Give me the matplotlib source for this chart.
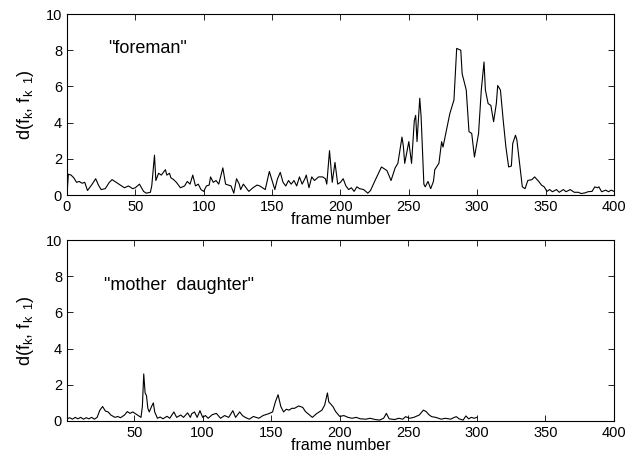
import matplotlib.pyplot as plt

plt.rcParams['font.family'] = ['Liberation Sans', 'DejaVu Sans']
plt.rcParams['mathtext.fontset'] = 'custom'
plt.rcParams['mathtext.rm'] = 'Liberation Sans'
plt.rcParams['mathtext.it'] = 'Liberation Sans'

# frame distance, "foreman" sequence
fore_frames = [0, 1, 3, 5, 7, 9, 11, 13, 15, 18, 21, 23, 25, 28, 31, 33, 36, 39, 42, 45,
               48, 50, 53, 56, 58, 61, 62, 64, 65, 67, 69, 71, 72, 73, 75, 76, 78, 80, 83, 86,
               88, 90, 92, 94, 96, 98, 100, 102, 104, 105, 107, 109, 111, 114, 116, 118, 120, 122, 124, 126,
               127, 129, 131, 133, 136, 139, 141, 143, 145, 148, 150, 152, 154, 156, 158, 160, 162, 164, 166, 168,
               170, 172, 174, 175, 177, 179, 181, 184, 187, 189, 190, 192, 194, 196, 198, 200, 202, 204, 206, 208,
               210, 212, 214, 217, 220, 222, 225, 230, 234, 237, 240, 242, 245, 246, 247, 250, 252, 254, 255, 256,
               258, 259, 261, 262, 264, 266, 268, 269, 272, 274, 275, 278, 280, 283, 284, 285, 288, 289, 292, 294,
               296, 298, 301, 303, 305, 306, 308, 310, 312, 314, 315, 317, 319, 321, 323, 325, 326, 328, 329, 331,
               333, 335, 337, 340, 342, 345, 347, 349, 351, 353, 355, 358, 360, 363, 365, 368, 371, 374, 376, 379,
               381, 384, 386, 388, 389, 391, 394, 396, 398, 400]
fore_dist = [0.0, 1.15, 1.1, 0.95, 0.7, 0.75, 0.65, 0.7, 0.25, 0.55, 0.9, 0.55, 0.3, 0.35, 0.7, 0.85, 0.7, 0.55, 0.4, 0.5,
             0.35, 0.4, 0.6, 0.2, 0.1, 0.15, 0.5, 2.2, 0.8, 1.2, 1.1, 1.3, 1.4, 1.1, 1.2, 0.95, 0.85, 0.7, 0.4, 0.5,
             0.75, 0.6, 1.1, 0.5, 0.6, 0.3, 0.2, 0.5, 0.55, 1.0, 0.7, 0.8, 0.6, 1.5, 0.6, 0.55, 0.5, 0.1, 0.9, 0.6,
             0.3, 0.6, 0.4, 0.2, 0.4, 0.55, 0.5, 0.4, 0.3, 1.3, 0.8, 0.3, 0.9, 1.25, 0.7, 0.5, 0.8, 0.6, 0.8, 0.5,
             1.0, 0.6, 0.9, 1.1, 0.4, 1.0, 0.8, 1.0, 1.0, 0.9, 0.6, 2.45, 0.7, 1.8, 0.6, 0.7, 0.9, 0.5, 0.3, 0.4,
             0.2, 0.45, 0.35, 0.3, 0.1, 0.25, 0.75, 1.55, 1.35, 0.8, 1.5, 1.75, 3.2, 2.7, 1.75, 2.95, 1.75, 4.1, 4.4, 2.95,
             5.35, 4.3, 0.6, 0.45, 0.75, 0.35, 0.75, 1.4, 1.75, 2.95, 2.65, 3.75, 4.5, 5.25, 6.7, 8.1, 8.0, 6.7, 5.8, 3.5,
             3.4, 2.1, 3.4, 5.8, 7.35, 5.8, 5.05, 4.95, 4.05, 5.05, 6.05, 5.8, 4.15, 2.65, 1.55, 1.6, 2.85, 3.3, 3.05, 1.75,
             0.45, 0.35, 0.8, 0.85, 1.0, 0.75, 0.55, 0.45, 0.2, 0.3, 0.18, 0.3, 0.15, 0.3, 0.18, 0.3, 0.15, 0.15, 0.08, 0.12,
             0.18, 0.2, 0.45, 0.4, 0.45, 0.18, 0.27, 0.18, 0.27, 0.2]

# frame distance, "mother daughter" sequence
md_frames = [1, 3, 5, 7, 9, 11, 13, 15, 17, 19, 21, 23, 25, 27, 29, 31, 33, 36, 38, 40,
             43, 45, 47, 49, 51, 53, 55, 56, 57, 58, 59, 60, 61, 63, 64, 65, 67, 69, 71, 74,
             76, 79, 81, 84, 86, 89, 91, 92, 94, 96, 98, 100, 102, 104, 107, 110, 113, 116, 119, 122,
             124, 127, 129, 131, 134, 137, 141, 144, 148, 151, 153, 155, 157, 159, 161, 163, 165, 167, 170, 173,
             175, 178, 180, 183, 185, 187, 189, 191, 192, 193, 195, 197, 200, 203, 206, 209, 212, 215, 219, 222,
             226, 229, 232, 234, 236, 240, 243, 246, 248, 251, 254, 258, 261, 263, 265, 267, 270, 272, 274, 277,
             281, 283, 285, 287, 290, 292, 294, 296, 298, 300]
md_dist = [0.12, 0.18, 0.1, 0.2, 0.12, 0.2, 0.1, 0.18, 0.12, 0.2, 0.1, 0.2, 0.6, 0.8, 0.55, 0.5, 0.33, 0.2, 0.25, 0.18,
           0.33, 0.52, 0.42, 0.5, 0.4, 0.3, 0.2, 0.8, 2.6, 1.55, 1.4, 0.7, 0.5, 0.85, 1.0, 0.5, 0.15, 0.22, 0.12, 0.26,
           0.15, 0.5, 0.2, 0.33, 0.2, 0.45, 0.2, 0.4, 0.5, 0.2, 0.57, 0.2, 0.3, 0.15, 0.35, 0.42, 0.15, 0.3, 0.2, 0.57,
           0.2, 0.5, 0.3, 0.2, 0.1, 0.25, 0.15, 0.3, 0.4, 0.5, 1.05, 1.45, 0.8, 0.5, 0.65, 0.6, 0.7, 0.7, 0.83, 0.75,
           0.52, 0.33, 0.2, 0.4, 0.5, 0.6, 0.88, 1.55, 1.05, 0.97, 0.8, 0.52, 0.25, 0.3, 0.2, 0.15, 0.2, 0.12, 0.1, 0.15,
           0.08, 0.05, 0.15, 0.42, 0.12, 0.08, 0.15, 0.1, 0.24, 0.15, 0.2, 0.33, 0.6, 0.52, 0.35, 0.24, 0.2, 0.15, 0.1, 0.15,
           0.1, 0.18, 0.24, 0.12, 0.05, 0.28, 0.12, 0.2, 0.15, 0.2]

xticks = [0, 50, 100, 150, 200, 250, 300, 350, 400]
yticks = [0, 2, 4, 6, 8, 10]
ylab = r'd(f$_{k}$, f$_{k\ \ 1}$)'

fig = plt.figure(figsize=(6.36, 4.57), dpi=100)
ax1 = fig.add_axes([0.1053, 0.5733, 0.860, 0.396])
ax2 = fig.add_axes([0.1053, 0.0788, 0.860, 0.396])

panels = [(ax1, fore_frames, fore_dist, '"foreman"', 0, 8.1, 30),
          (ax2, md_frames, md_dist, '"mother  daughter"', 1, 7.5, 28)]

for ax, fr, d, name, x0, ty, tx in panels:
    ax.plot(fr, d, color='black', lw=0.8)
    ax.set_xlim(x0, 400)
    ax.set_ylim(0, 10)
    ax.set_xticks([t for t in xticks if t >= x0])
    ax.set_yticks(yticks)
    ax.tick_params(direction='in', top=True, right=True, length=4, width=0.6, labelsize=10.5)
    for s in ax.spines.values():
        s.set_linewidth(0.8)
    ax.set_xlabel('frame number', fontsize=11.5, labelpad=-1)
    ax.set_ylabel(ylab, fontsize=13, labelpad=7)
    ax.text(tx, ty, name, fontsize=13, va='center', ha='left')

fig.savefig('out.png', dpi=100)
